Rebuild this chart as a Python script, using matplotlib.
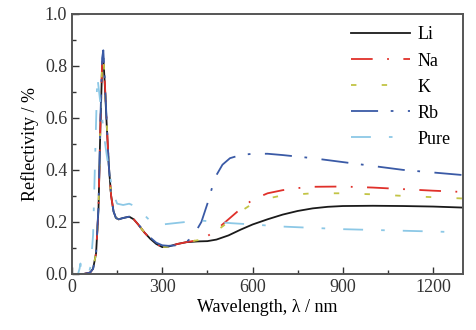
import matplotlib
matplotlib.use("Agg")
import matplotlib.pyplot as plt
from matplotlib.ticker import MultipleLocator

plt.rcParams['font.family'] = ['Liberation Serif', 'DejaVu Serif']
plt.rcParams['mathtext.fontset'] = 'stix'

wl_li = [0, 40, 60, 70, 80, 88, 94, 100, 104, 108, 115, 122, 130, 138, 146, 155, 170, 190, 205, 220, 240, 260, 280, 300,
         320, 350, 380, 420, 450, 480, 520, 560, 600, 650, 700, 750, 800, 850, 900, 1000, 1100, 1200, 1300]
r_li = [0, 0, 0.005, 0.02, 0.08, 0.25, 0.55, 0.80, 0.83, 0.75, 0.58, 0.42, 0.30, 0.24, 0.215, 0.21, 0.215, 0.22, 0.21,
        0.19, 0.16, 0.135, 0.115, 0.103, 0.105, 0.115, 0.122, 0.125, 0.126, 0.132, 0.148, 0.17, 0.19, 0.21, 0.228,
        0.242, 0.252, 0.258, 0.261, 0.262, 0.261, 0.259, 0.255]

wl_na = [0, 40, 60, 70, 80, 88, 94, 100, 104, 108, 115, 122, 130, 138, 146, 155, 170, 190, 205, 220, 240, 260, 280, 300,
         320, 350, 380, 420, 450, 480, 520, 560, 600, 650, 700, 750, 800, 900, 1000, 1100, 1200, 1300]
r_na = [0, 0, 0.005, 0.02, 0.08, 0.25, 0.56, 0.81, 0.84, 0.76, 0.59, 0.42, 0.30, 0.24, 0.215, 0.21, 0.215, 0.22, 0.21,
        0.19, 0.16, 0.135, 0.115, 0.103, 0.105, 0.115, 0.122, 0.13, 0.145, 0.17, 0.21, 0.25, 0.285, 0.31, 0.322,
        0.33, 0.335, 0.336, 0.332, 0.326, 0.32, 0.315]

wl_k = [0, 40, 60, 70, 80, 88, 94, 100, 104, 108, 115, 122, 130, 138, 146, 155, 170, 190, 205, 220, 240, 260, 280, 300,
        320, 350, 380, 420, 450, 480, 520, 560, 600, 650, 700, 800, 900, 1000, 1100, 1200, 1300]
r_k = [0, 0, 0.005, 0.02, 0.08, 0.25, 0.56, 0.81, 0.84, 0.76, 0.59, 0.42, 0.30, 0.24, 0.215, 0.21, 0.215, 0.22, 0.21,
       0.19, 0.16, 0.135, 0.115, 0.103, 0.105, 0.115, 0.122, 0.13, 0.145, 0.165, 0.2, 0.24, 0.27, 0.29, 0.302,
       0.31, 0.31, 0.306, 0.30, 0.295, 0.29]

wl_rb = [0, 40, 60, 70, 80, 88, 94, 100, 104, 108, 115, 122, 130, 138, 146, 155, 170, 190, 205, 220, 240, 260, 280, 300,
         320, 350, 375, 400, 430, 450, 475, 500, 525, 560, 600, 650, 700, 800, 900, 1000, 1100, 1200, 1300]
r_rb = [0, 0, 0.005, 0.02, 0.08, 0.26, 0.58, 0.83, 0.86, 0.77, 0.59, 0.42, 0.30, 0.24, 0.215, 0.21, 0.215, 0.22, 0.21,
        0.19, 0.165, 0.14, 0.12, 0.11, 0.108, 0.11, 0.12, 0.14, 0.2, 0.27, 0.37, 0.42, 0.445, 0.457, 0.462, 0.462,
        0.457, 0.445, 0.43, 0.415, 0.40, 0.39, 0.38]

wl_pure = [0, 20, 25, 28, 31, 40, 55, 62, 70, 78, 84, 90, 100, 110, 120, 130, 140, 150, 170, 190, 210, 230, 250, 270,
           300, 340, 380, 430, 480, 530, 600, 700, 800, 900, 1000, 1100, 1200, 1300]
r_pure = [0, 0, 0.02, 0.04, 0.0, 0, 0, 0.03, 0.15, 0.5, 0.76, 0.70, 0.60, 0.50, 0.42, 0.35, 0.30, 0.27, 0.265, 0.27,
          0.26, 0.24, 0.215, 0.195, 0.19, 0.195, 0.20, 0.205, 0.20, 0.195, 0.19, 0.182, 0.177, 0.172, 0.169, 0.166,
          0.163, 0.16]

labels = ['Li', 'Na', 'K', 'Rb', 'Pure']

fig = plt.figure(figsize=(4.77, 3.30), dpi=100)
ax = fig.add_axes([0.151, 0.170, 0.820, 0.788])

ax.plot(wl_li, r_li, color='#1a1a1a', lw=1.3, ls='-', label=labels[0])
ax.plot(wl_na, r_na, color='#e0302a', lw=1.3, ls=(0, (12, 8, 1, 8)), label=labels[1])
ax.plot(wl_k, r_k, color='#c2c445', lw=1.3, ls=(0, (3, 14)), label=labels[2])
ax.plot(wl_rb, r_rb, color='#3a5aa6', lw=1.3, ls=(0, (15, 7, 1.5, 8)), label=labels[3])
ax.plot(wl_pure, r_pure, color='#8cc8e6', lw=1.3, ls=(0, (11, 10, 2, 10)), label=labels[4])

ax.set_xlim(0, 1300)
ax.set_ylim(0, 1.0)
ax.xaxis.set_major_locator(MultipleLocator(300))
ax.xaxis.set_minor_locator(MultipleLocator(150))
ax.yaxis.set_major_locator(MultipleLocator(0.2))
ax.yaxis.set_minor_locator(MultipleLocator(0.1))
ax.yaxis.set_major_formatter(plt.FuncFormatter(lambda v, p: f"{v:.1f}"))
ax.tick_params(which='both', direction='in', top=False, right=False, labelsize=13, colors='#333333')
ax.tick_params(which='major', length=5, width=1)
ax.tick_params(which='minor', length=3, width=1)
for s in ax.spines.values():
    s.set_color('#555555')
    s.set_linewidth(1.4)

ax.set_xlabel('Wavelength, λ / nm', fontsize=13, labelpad=2)
ax.set_ylabel('Reflectivity / %', fontsize=13, labelpad=4)

ax.legend(loc='upper right', frameon=False, fontsize=13, handlelength=3.3, labelspacing=0.5,
          borderaxespad=0.3, handletextpad=0.4)

fig.savefig('out.png', dpi=100)
